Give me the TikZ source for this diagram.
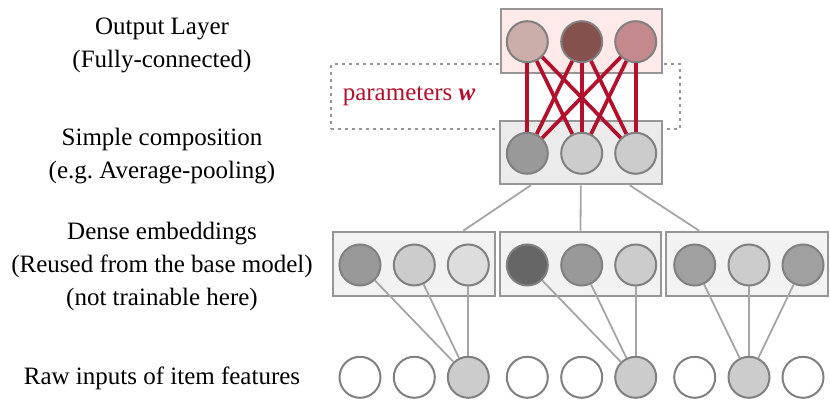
\documentclass[tikz,border=0pt]{standalone}
\usepackage{fontspec}
\setmainfont{Liberation Serif}
\usetikzlibrary{calc}
\frenchspacing
\definecolor{circgray}{RGB}{128,128,128}
\definecolor{boxgray}{RGB}{150,150,150}
\definecolor{lgray}{RGB}{165,165,165}
\definecolor{wred}{RGB}{178,16,44}
\definecolor{outfill}{RGB}{255,233,233}
\definecolor{compfill}{RGB}{235,235,235}
\definecolor{embfill}{RGB}{242,242,242}
\definecolor{oA}{RGB}{203,173,169}
\definecolor{oB}{RGB}{133,81,77}
\definecolor{oC}{RGB}{195,137,140}
\definecolor{gA}{RGB}{102,102,102}
\definecolor{gB}{RGB}{153,153,153}
\definecolor{gC}{RGB}{160,160,160}
\definecolor{gD}{RGB}{204,204,204}
\definecolor{gE}{RGB}{221,221,221}
\begin{document}
\begin{tikzpicture}[x=1pt,y=-1pt,
  circ/.style={circle,draw=circgray,line width=2pt,minimum size=41pt,inner sep=0pt},
  layerbox/.style={rectangle,draw=boxgray,line width=2pt,inner sep=0pt},
  dashbox/.style={rectangle,draw=boxgray,line width=1.5pt,dash pattern=on 3pt off 4pt,inner sep=0pt},
  redline/.style={draw=wred,line width=3.7pt},
  grayline/.style={draw=lgray,line width=1.8pt},
  lbl/.style={align=center,font=\fontsize{25}{33}\selectfont}]
\useasboundingbox (0,0) rectangle (830,403);

% left labels
\node[lbl] (l1) at (162,45) {Output Layer\\(Fully-connected)};
\node[lbl] (l2) at (162,156) {Simple composition\\(e.g. Average-pooling)};
\node[lbl] (l3) at (162,266) {Dense embeddings\\(Reused from the base model)\\(not trainable here)};
\node[lbl] (l4) at (162,378) {Raw inputs of item features};

% dashed parameter box
\node[dashbox,minimum width=349pt,minimum height=64.7pt] (pbox) at (505.5,96.6) {};
\node[lbl,text=wred,anchor=west] (ptext) at ([xshift=9pt]pbox.west) {parameters \textbf{\textit{w}}};

% layer boxes
\node[layerbox,fill=outfill,minimum width=161.5pt,minimum height=63.7pt] (outbox) at (581.5,41.2) {};
\node[layerbox,fill=compfill,minimum width=161.7pt,minimum height=63.6pt] (comp) at (580.8,152.5) {};
\node[layerbox,fill=embfill,minimum width=161.7pt,minimum height=64.3pt] (emb1) at (414.2,263.9) {};
\node[layerbox,fill=embfill,minimum width=161.7pt,minimum height=64.3pt] (emb2) at (580.5,263.9) {};
\node[layerbox,fill=embfill,minimum width=161.7pt,minimum height=64.3pt] (emb3) at (747.2,263.9) {};

% output circles
\node[circ,fill=oA] (o1) at (527.3,41.7) {};
\node[circ,fill=oB] (o2) at (581.7,41.7) {};
\node[circ,fill=oC] (o3) at (635.7,41.7) {};
% composition circles
\node[circ,fill=gB] (c1) at (527.3,153.3) {};
\node[circ,fill=gD] (c2) at (581.7,153.3) {};
\node[circ,fill=gD] (c3) at (635.7,153.3) {};
% embedding circles
\node[circ,fill=gB] (e1) at (360,265) {};
\node[circ,fill=gD] (e2) at (414.3,265) {};
\node[circ,fill=gE] (e3) at (468.3,265) {};
\node[circ,fill=gA] (e4) at (527.3,265) {};
\node[circ,fill=gB] (e5) at (581.7,265) {};
\node[circ,fill=gD] (e6) at (635.7,265) {};
\node[circ,fill=gC] (e7) at (694.7,265) {};
\node[circ,fill=gD] (e8) at (749,265) {};
\node[circ,fill=gC] (e9) at (803,265) {};
% raw input circles
\node[circ,fill=white] (r1) at (360,377.3) {};
\node[circ,fill=white] (r2) at (414.3,377.3) {};
\node[circ,fill=gD] (r3) at (468.3,377.3) {};
\node[circ,fill=white] (r4) at (527.3,377.3) {};
\node[circ,fill=white] (r5) at (581.7,377.3) {};
\node[circ,fill=gD] (r6) at (635.7,377.3) {};
\node[circ,fill=white] (r7) at (694.7,377.3) {};
\node[circ,fill=gD] (r8) at (749,377.3) {};
\node[circ,fill=white] (r9) at (803,377.3) {};

% fully connected weights
\foreach \a in {o1,o2,o3}{
  \foreach \b in {c1,c2,c3}{
    \draw[redline] (\a) -- (\b);
  }
}

% composition to embedding boxes
\draw[grayline] ([xshift=-50pt]comp.south) -- ([xshift=49pt]emb1.north);
\draw[grayline] (comp.south) -- (emb2.north);
\draw[grayline] ([xshift=49pt]comp.south) -- ([xshift=-48pt]emb3.north);

% embeddings to raw inputs
\foreach \e in {e1,e2,e3}{\draw[grayline] (\e) -- (r3);}
\foreach \e in {e4,e5,e6}{\draw[grayline] (\e) -- (r6);}
\foreach \e in {e7,e8,e9}{\draw[grayline] (\e) -- (r8);}
\end{tikzpicture}
\end{document}
